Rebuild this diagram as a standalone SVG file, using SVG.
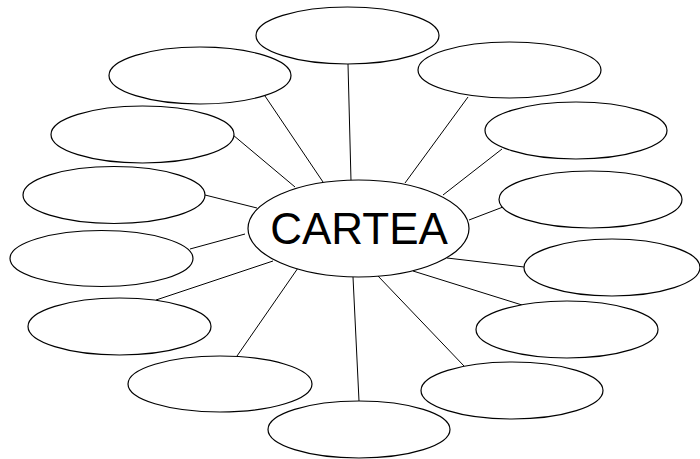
<svg xmlns="http://www.w3.org/2000/svg" width="700" height="459" viewBox="0 0 700 459">
<style>
.n{fill:#fff;stroke:#000;stroke-width:1.2}
.c line{stroke:#000;stroke-width:1}
text{font-family:"Liberation Sans",Arial,sans-serif;font-size:44px;fill:#000}
</style>
<rect width="700" height="459" fill="#fff"/>
<g class="c" id="connectors">
<line x1="348" y1="64" x2="351" y2="181"/>
<line x1="265" y1="96" x2="323" y2="182"/>
<line x1="233" y1="135" x2="295" y2="187"/>
<line x1="205" y1="195" x2="257" y2="208"/>
<line x1="190" y1="249" x2="245" y2="234"/>
<line x1="156" y1="300" x2="273" y2="261"/>
<line x1="237" y1="356" x2="298" y2="268"/>
<line x1="353" y1="277" x2="359" y2="401"/>
<line x1="378" y1="276" x2="464" y2="366"/>
<line x1="413" y1="271" x2="522" y2="305"/>
<line x1="447" y1="258" x2="524" y2="267"/>
<line x1="469" y1="220" x2="503" y2="207"/>
<line x1="443" y1="195" x2="502" y2="149"/>
<line x1="405" y1="183" x2="468" y2="97"/>
</g>
<g id="n-top"><ellipse class="n" cx="347.5" cy="35.5" rx="91.5" ry="28.5"/></g>
<g id="n-l1"><ellipse class="n" cx="200" cy="75.5" rx="91" ry="28.5"/></g>
<g id="n-l2"><ellipse class="n" cx="142.5" cy="134.5" rx="91.5" ry="28.5"/></g>
<g id="n-l3"><ellipse class="n" cx="114" cy="195" rx="91" ry="28.5"/></g>
<g id="n-l4"><ellipse class="n" cx="101.5" cy="258.5" rx="91.5" ry="28"/></g>
<g id="n-l5"><ellipse class="n" cx="119.5" cy="326.5" rx="91.5" ry="28.5"/></g>
<g id="n-l6"><ellipse class="n" cx="220" cy="384" rx="92" ry="28"/></g>
<g id="n-bottom"><ellipse class="n" cx="359" cy="429.5" rx="91" ry="28.5"/></g>
<g id="n-r6"><ellipse class="n" cx="512" cy="390.5" rx="91" ry="28.5"/></g>
<g id="n-r5"><ellipse class="n" cx="567" cy="329.5" rx="91" ry="28.5"/></g>
<g id="n-r4"><ellipse class="n" cx="612" cy="267.5" rx="88" ry="28.5"/></g>
<g id="n-r3"><ellipse class="n" cx="590.5" cy="199.5" rx="91.5" ry="28.5"/></g>
<g id="n-r2"><ellipse class="n" cx="576" cy="130.5" rx="91" ry="28.5"/></g>
<g id="n-r1"><ellipse class="n" cx="509.5" cy="70" rx="91.5" ry="28"/></g>
<g id="n-center"><ellipse class="n" cx="358.5" cy="228.5" rx="110.5" ry="48.5"/><text x="359" y="244" text-anchor="middle">CARTEA</text></g>
</svg>
